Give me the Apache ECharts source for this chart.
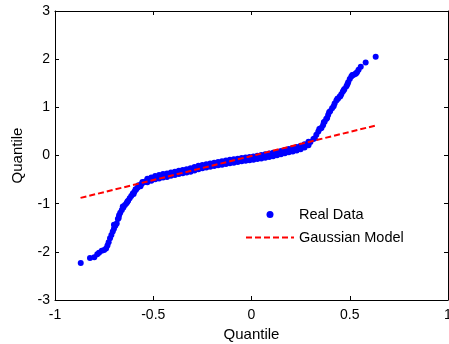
<!DOCTYPE html>
<html>
<head>
<meta charset="utf-8">
<script src="https://cdn.jsdelivr.net/npm/echarts@6/dist/echarts.min.js"></script>
<style>html,body{margin:0;padding:0;background:#fff;}#c{width:449px;height:344px;}</style>
</head>
<body>
<div id="c"></div>
<script>
// Real data (sample quantiles vs theoretical quantiles), main trace
var realX = [-0.869,-0.822,-0.800,-0.785,-0.776,-0.762,-0.750,-0.740,-0.733,-0.727,-0.720,-0.713,-0.706,-0.700,-0.693,-0.686,-0.680,-0.674,-0.668,-0.660,-0.652,-0.644,-0.636,-0.628,-0.620,-0.612,-0.604,-0.596,-0.588,-0.580,-0.570,-0.560,-0.550,-0.540,-0.530,-0.517,-0.505,-0.490,-0.475,-0.460,-0.445,-0.430,-0.415,-0.400,-0.380,-0.360,-0.340,-0.320,-0.300,-0.280,-0.260,-0.240,-0.220,-0.200,-0.180,-0.160,-0.140,-0.120,-0.100,-0.080,-0.060,-0.040,-0.020,0.000,0.020,0.040,0.060,0.080,0.100,0.120,0.140,0.160,0.180,0.200,0.220,0.240,0.260,0.280,0.300,0.315,0.330,0.340,0.350,0.364,0.372,0.380,0.390,0.400,0.410,0.423,0.432,0.440,0.448,0.457,0.465,0.473,0.483,0.492,0.500,0.508,0.518,0.527,0.537,0.545,0.556,0.581,0.632];
var realY = [-2.23,-2.13,-2.11,-2.05,-2.02,-1.98,-1.96,-1.93,-1.87,-1.80,-1.72,-1.65,-1.58,-1.52,-1.46,-1.41,-1.32,-1.24,-1.19,-1.13,-1.08,-1.03,-0.99,-0.94,-0.89,-0.84,-0.79,-0.75,-0.71,-0.67,-0.63,-0.59,-0.56,-0.54,-0.52,-0.50,-0.48,-0.46,-0.44,-0.43,-0.42,-0.41,-0.39,-0.38,-0.36,-0.34,-0.33,-0.31,-0.29,-0.26,-0.24,-0.22,-0.21,-0.19,-0.18,-0.16,-0.15,-0.13,-0.12,-0.11,-0.09,-0.08,-0.07,-0.06,-0.05,-0.03,-0.02,0.00,0.01,0.03,0.05,0.07,0.09,0.11,0.13,0.15,0.18,0.22,0.28,0.34,0.43,0.50,0.56,0.63,0.70,0.76,0.84,0.92,0.98,1.08,1.14,1.18,1.22,1.27,1.33,1.38,1.44,1.52,1.59,1.64,1.67,1.69,1.73,1.78,1.84,1.93,2.05];
// Real data: the thick middle band (upper and lower edges share x)
var bandX = [-0.53,-0.51,-0.49,-0.47,-0.45,-0.43,-0.41,-0.39,-0.37,-0.35,-0.33,-0.31,-0.29,-0.27,-0.25,-0.23,-0.21,-0.19,-0.17,-0.15,-0.13,-0.11,-0.09,-0.07,-0.05,-0.03,-0.01,0.01,0.03,0.05,0.07,0.09,0.11,0.13,0.15,0.17,0.19,0.21,0.23,0.25,0.27,0.29];
var bandUpperY = [-0.485,-0.455,-0.425,-0.405,-0.385,-0.375,-0.352,-0.335,-0.315,-0.30,-0.285,-0.265,-0.24,-0.215,-0.195,-0.18,-0.165,-0.15,-0.135,-0.12,-0.105,-0.09,-0.08,-0.065,-0.05,-0.04,-0.03,-0.02,-0.005,0.01,0.025,0.04,0.055,0.075,0.095,0.115,0.135,0.155,0.175,0.20,0.235,0.285];
var bandLowerY = [-0.555,-0.525,-0.495,-0.475,-0.455,-0.445,-0.422,-0.405,-0.385,-0.37,-0.355,-0.335,-0.31,-0.285,-0.265,-0.25,-0.235,-0.22,-0.205,-0.19,-0.175,-0.16,-0.15,-0.135,-0.12,-0.11,-0.10,-0.09,-0.075,-0.06,-0.045,-0.03,-0.015,0.005,0.025,0.045,0.065,0.085,0.105,0.13,0.165,0.215];
// Real data: extra points in the two tails
var tailX = [-0.700,-0.676,-0.655,-0.632,-0.600,-0.590,-0.575,-0.565,-0.555,0.322,0.345,0.356,0.368,0.385,0.395,0.418,0.437,0.452,0.470,0.488,0.513,0.532];
var tailY = [-1.44,-1.30,-1.06,-0.96,-0.80,-0.70,-0.62,-0.64,-0.55,0.36,0.55,0.57,0.69,0.78,0.90,1.02,1.18,1.23,1.36,1.48,1.67,1.70];
// Gaussian model line endpoints
var modelX = [-0.87, 0.63];
var modelY = [-0.88, 0.62];
var xTicks = [-1, -0.5, 0, 0.5, 1];
var yTicks = [-3, -2, -1, 0, 1, 2, 3];

function pairs(xs, ys){ return xs.map(function(x, i){ return [x, ys[i]]; }); }
var realData = pairs(realX, realY)
  .concat(pairs(bandX, bandUpperY))
  .concat(pairs(bandX, bandLowerY))
  .concat(pairs(tailX, tailY));
var modelData = pairs(modelX, modelY);

var font = 'Liberation Sans, Arial, sans-serif';
var chart = echarts.init(document.getElementById('c'), null, {renderer:'canvas'});
function axisCommon(show){
  return {
    axisLine:{show:true, onZero:false, lineStyle:{color:'#000', width:1}},
    axisTick:{show:true, inside:true, length:4, lineStyle:{color:'#000'}},
    splitLine:{show:false},
    axisLabel:{show:show, color:'#000', fontFamily:font, fontSize:14}
  };
}
var xa = Object.assign(axisCommon(true), {type:'value', min:-1, max:1, interval:0.5, position:'bottom',
  name:'Quantile', nameLocation:'middle', nameGap:24, nameTextStyle:{color:'#000', fontFamily:font, fontSize:15},
  axisLabel:{color:'#000', fontFamily:font, fontSize:14, margin:8, formatter:function(v){return xTicks.indexOf(v)>=0 ? String(v) : '';}}});
var xb = Object.assign(axisCommon(false), {type:'value', min:-1, max:1, interval:0.5, position:'top'});
var ya = Object.assign(axisCommon(true), {type:'value', min:-3, max:3, interval:1, position:'left',
  name:'Quantile', nameLocation:'middle', nameGap:30, nameTextStyle:{color:'#000', fontFamily:font, fontSize:15},
  axisLabel:{color:'#000', fontFamily:font, fontSize:14, margin:5, formatter:function(v){return yTicks.indexOf(v)>=0 ? String(v) : '';}}});
var yb = Object.assign(axisCommon(false), {type:'value', min:-3, max:3, interval:1, position:'right'});

chart.setOption({
  animation:false,
  backgroundColor:'#fff',
  grid:{left:55, right:1, top:11, bottom:44, containLabel:false, outerBoundsMode:'none'},
  xAxis:[xa, xb],
  yAxis:[ya, yb],
  legend:{
    orient:'vertical', left:240, top:202, padding:5, itemWidth:48, itemHeight:7, itemGap:8,
    textStyle:{color:'#000', fontFamily:font, fontSize:14.5},
    data:[{name:'Real Data', icon:'circle'}, {name:'Gaussian Model', itemStyle:{opacity:0, color:'rgba(0,0,0,0)', borderWidth:0}}]
  },
  series:[
    {name:'Real Data', type:'scatter', data:realData, symbol:'circle', symbolSize:6,
      itemStyle:{color:'#0000ff', opacity:1}, z:2},
    {name:'Gaussian Model', type:'line', data:modelData, showSymbol:false, symbol:'none',
      lineStyle:{color:'#ff0000', width:2, type:[6,3]}, itemStyle:{color:'#ff0000'}, z:3}
  ]
});
</script>
</body>
</html>
